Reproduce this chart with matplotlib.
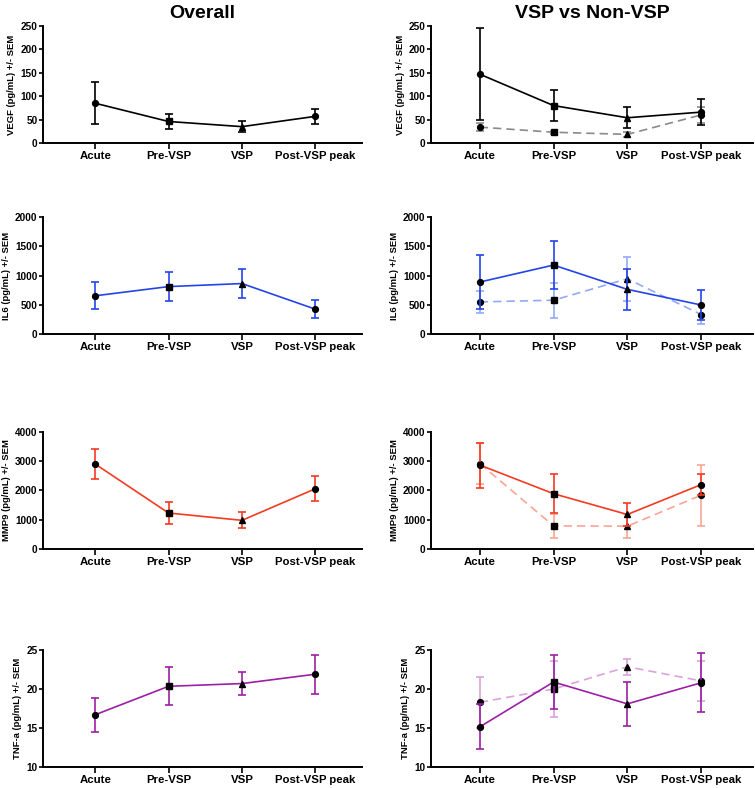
import numpy as np
import matplotlib.pyplot as plt

plt.rcParams['font.family'] = ['Liberation Sans', 'DejaVu Sans']
plt.rcParams['font.weight'] = 'bold'

# -------------------------------
# data
# -------------------------------
timepoints = ["Acute", "Pre-VSP", "VSP", "Post-VSP peak"]
markers = ["o", "s", "^", "o"]

# overall
vegf_all = [85, 46, 35, 57]
vegf_all_err = [45, 15, 11, 16]
il6_all = [655, 812, 864, 426]
il6_all_err = [232, 245, 250, 157]
mmp9_all = [2905, 1230, 980, 2060]
mmp9_all_err = [500, 360, 270, 430]
tnf_all = [16.7, 20.35, 20.7, 21.9]
tnf_all_err = [2.15, 2.45, 1.5, 2.5]

# VSP (solid) vs Non-VSP (dashed)
vegf_vsp = [147, 80, 54, 66]
vegf_vsp_err = [98, 34, 22, 28]
vegf_non = [34, 23, 18.5, 60]
vegf_non_err = [8, 3, 5, 18]
il6_vsp = [890, 1180, 765, 498]
il6_vsp_err = [467, 413, 345, 250]
il6_non = [550, 580, 945, 335]
il6_non_err = [195, 300, 380, 162]
mmp9_vsp = [2870, 1890, 1180, 2200]
mmp9_vsp_err = [770, 670, 400, 370]
mmp9_non = [2920, 790, 780, 1840]
mmp9_non_err = [690, 400, 400, 1040]
tnf_vsp = [15.15, 20.9, 18.1, 20.8]
tnf_vsp_err = [2.9, 3.5, 2.85, 3.8]
tnf_non = [18.3, 20.0, 22.85, 21.05]
tnf_non_err = [3.3, 3.6, 1.0, 2.55]

# -------------------------------
# styles per row
# -------------------------------
rows = [
    dict(lab="VEGF (pg/mL) +/- SEM", c="black", cl="#8a8a8a", ylim=(0, 250), yt=np.arange(0, 251, 50),
         all=(vegf_all, vegf_all_err), vsp=(vegf_vsp, vegf_vsp_err), non=(vegf_non, vegf_non_err)),
    dict(lab="IL6 (pg/mL) +/- SEM", c="#2444ea", cl="#93a9f4", ylim=(0, 2000), yt=np.arange(0, 2001, 500),
         all=(il6_all, il6_all_err), vsp=(il6_vsp, il6_vsp_err), non=(il6_non, il6_non_err)),
    dict(lab="MMP9 (pg/mL) +/- SEM", c="#f43a22", cl="#f8a595", ylim=(0, 4000), yt=np.arange(0, 4001, 1000),
         all=(mmp9_all, mmp9_all_err), vsp=(mmp9_vsp, mmp9_vsp_err), non=(mmp9_non, mmp9_non_err)),
    dict(lab="TNF-a (pg/mL) +/- SEM", c="#9c1fa4", cl="#dca2dc", ylim=(10, 25), yt=np.arange(10, 26, 5),
         all=(tnf_all, tnf_all_err), vsp=(tnf_vsp, tnf_vsp_err), non=(tnf_non, tnf_non_err)),
]

fig = plt.figure(figsize=(7.55, 7.88), dpi=100)

row_bottoms = [0.8185, 0.576, 0.3033, 0.0266]
row_h = 0.1485
left_col = (0.057, 0.422)
right_col = (0.571, 0.426)
x = np.arange(len(timepoints))


def style_axis(ax, r, xlim):
    ax.set_xlim(*xlim)
    ax.set_ylim(*r["ylim"])
    ax.set_yticks(r["yt"])
    ax.set_xticks(x)
    ax.set_xticklabels(timepoints, fontsize=8.2, fontweight="bold")
    for t in ax.get_yticklabels():
        t.set_fontsize(7.2)
        t.set_fontweight("bold")
    ax.spines["top"].set_visible(False)
    ax.spines["right"].set_visible(False)
    ax.spines["left"].set_linewidth(1.4)
    ax.spines["bottom"].set_linewidth(1.4)
    ax.tick_params(axis="y", length=3, width=1.2, pad=1)
    ax.tick_params(axis="x", length=4, width=1.2, pad=1.5)
    ax.set_ylabel(r["lab"], fontsize=6.8, fontweight="bold", labelpad=3)


def draw_series(ax, y, err, color, ecolor, ls, zorder):
    ax.plot(x, y, color=color, ls=ls, lw=1.2, zorder=zorder)
    ax.errorbar(x, y, yerr=err, fmt="none", ecolor=ecolor, elinewidth=1.2,
                capsize=3, capthick=1.2, zorder=zorder)
    for xi, yi, m in zip(x, y, markers):
        ax.plot(xi, yi, marker=m, color="black", ms=4.2 if m != "^" else 3.8, zorder=zorder + 1)


for i, r in enumerate(rows):
    # overall
    ax = fig.add_axes([left_col[0], row_bottoms[i], left_col[1], row_h])
    draw_series(ax, r["all"][0], r["all"][1], r["c"], r["c"], "-", 3)
    style_axis(ax, r, (-0.71, 3.63))
    if i == 0:
        ax.set_title("Overall", fontsize=14, fontweight="bold", pad=6)

    # VSP vs Non-VSP
    ax2 = fig.add_axes([right_col[0], row_bottoms[i], right_col[1], row_h])
    draw_series(ax2, r["non"][0], r["non"][1], r["cl"], r["cl"], (0, (5, 3)), 2)
    draw_series(ax2, r["vsp"][0], r["vsp"][1], r["c"], r["c"], "-", 4)
    style_axis(ax2, r, (-0.66, 3.70))
    if i == 0:
        ax2.set_title("VSP vs Non-VSP", fontsize=14, fontweight="bold", pad=6)

plt.savefig("out.png", dpi=100)
